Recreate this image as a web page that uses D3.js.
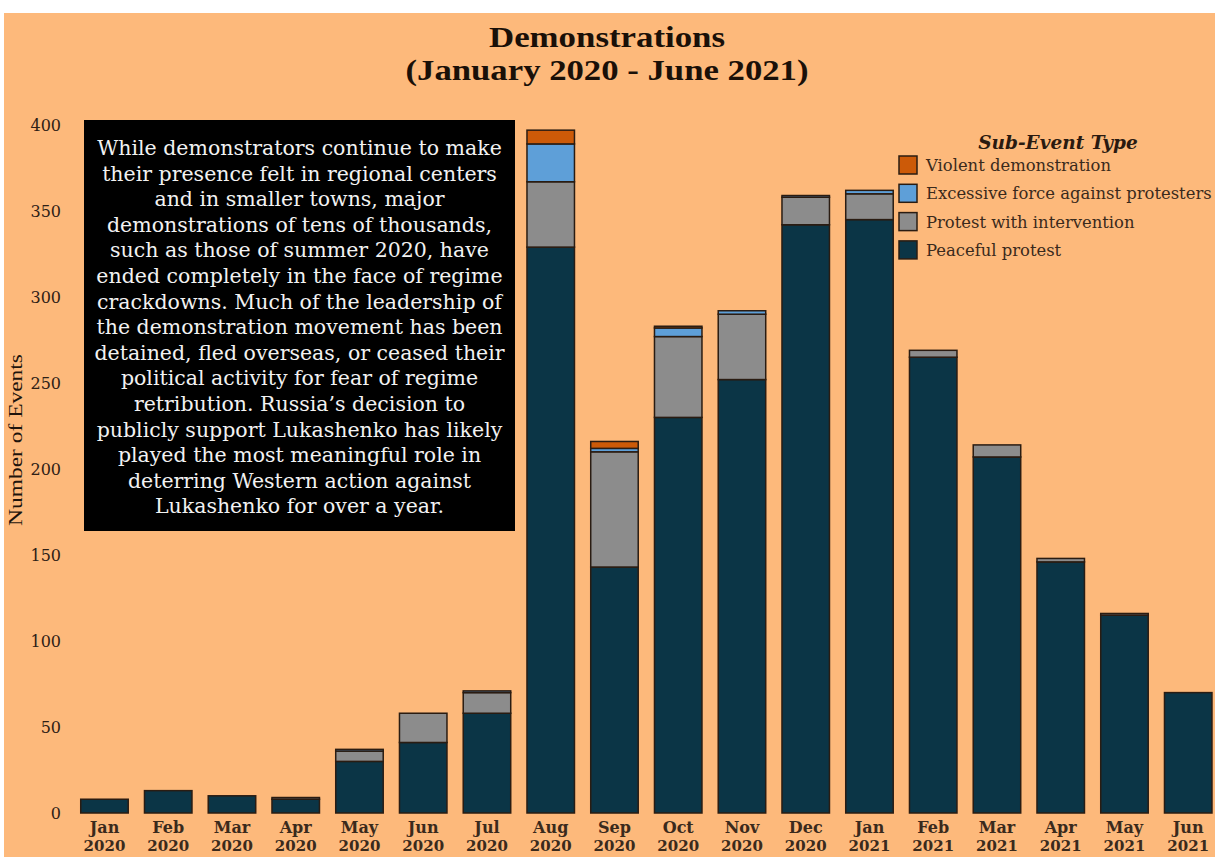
<!DOCTYPE html>
<html>
<head>
<meta charset="utf-8">
<script src="https://cdn.jsdelivr.net/npm/d3@7"></script>
<style>
  html, body { margin: 0; padding: 0; background: #ffffff; }
  svg { display: block; }
</style>
</head>
<body>
<svg id="chart" width="1215" height="857"></svg>
<script>
// ---- Data ----
const months = ["Jan","Feb","Mar","Apr","May","Jun","Jul","Aug","Sep","Oct","Nov","Dec","Jan","Feb","Mar","Apr","May","Jun"];
const years  = ["2020","2020","2020","2020","2020","2020","2020","2020","2020","2020","2020","2020","2021","2021","2021","2021","2021","2021"];
const peaceful     = [8, 13, 10, 8, 30, 41, 58, 329, 143, 230, 252, 342, 345, 265, 207, 146, 115, 70];
const intervention = [0, 0, 0, 1, 6, 17, 12, 38, 67, 47, 38, 16, 15, 4, 7, 2, 1, 0];
const excessive    = [0, 0, 0, 0, 1, 0, 1, 22, 2, 5, 2, 1, 2, 0, 0, 0, 0, 0];
const violent      = [0, 0, 0, 0, 0, 0, 0, 8, 4, 1, 0, 0, 0, 0, 0, 0, 0, 0];
const yTicks = [0, 50, 100, 150, 200, 250, 300, 350, 400];
const seriesKeys   = ["peaceful","intervention","excessive","violent"];
const seriesLabels = ["Peaceful protest","Protest with intervention","Excessive force against protesters","Violent demonstration"];
const seriesColors = ["#0b3546","#8c8c8c","#5e9fd8","#cc5a08"];
const noteLines = [
  "While demonstrators continue to make",
  "their presence felt in regional centers",
  "and in smaller towns, major",
  "demonstrations of tens of thousands,",
  "such as those of summer 2020, have",
  "ended completely in the face of regime",
  "crackdowns. Much of the leadership of",
  "the demonstration movement has been",
  "detained, fled overseas, or ceased their",
  "political activity for fear of regime",
  "retribution. Russia\u2019s decision to",
  "publicly support Lukashenko has likely",
  "played the most meaningful role in",
  "deterring Western action against",
  "Lukashenko for over a year."
];

// ---- Build table ----
const table = months.map((m, i) => ({
  key: i, month: m, year: years[i],
  peaceful: peaceful[i], intervention: intervention[i],
  excessive: excessive[i], violent: violent[i]
}));

const svg = d3.select("#chart");
const bg = "#fdb97b";
const txt = "#3a2a1c";
const edge = "#2a1c12";

svg.append("rect").attr("x", 4).attr("y", 13).attr("width", 1211).attr("height", 844).attr("fill", bg);

const x = d3.scaleBand()
  .domain(table.map(d => d.key))
  .range([72.6, 1220.1])
  .paddingInner(0.255)
  .paddingOuter(0.1275);

const y = d3.scaleLinear().domain([0, 400]).range([813, 125]);

// y axis labels
const yAxis = d3.axisLeft(y).tickValues(yTicks).tickSize(0).tickPadding(0);
const yg = svg.append("g").attr("transform", "translate(61,0)").call(yAxis);
yg.select(".domain").remove();
yg.selectAll("text")
  .attr("font-family", "DejaVu Serif")
  .attr("font-size", 16)
  .attr("fill", "#2e2016");

// stacked bars
const stack = d3.stack().keys(seriesKeys);
const stacked = stack(table);
const layers = svg.append("g").selectAll("g")
  .data(stacked).join("g")
  .attr("fill", (d, i) => seriesColors[i]);
layers.selectAll("rect")
  .data(d => d.filter(s => s[1] - s[0] > 0))
  .join("rect")
  .attr("x", d => x(d.data.key))
  .attr("width", x.bandwidth())
  .attr("y", d => y(d[1]))
  .attr("height", d => y(d[0]) - y(d[1]))
  .attr("stroke", edge)
  .attr("stroke-width", 1.5);

// x axis labels
const xAxis = d3.axisBottom(x).tickSize(0).tickFormat(i => months[i]);
const xg = svg.append("g").attr("transform", "translate(0,813)").call(xAxis);
xg.select(".domain").remove();
xg.selectAll("text")
  .attr("font-family", "DejaVu Serif")
  .attr("font-size", 16)
  .attr("font-weight", "bold")
  .attr("fill", txt)
  .attr("dy", null)
  .attr("y", 20);
xg.selectAll(".tick").append("text")
  .attr("font-family", "DejaVu Serif")
  .attr("font-size", 15)
  .attr("font-weight", "bold")
  .attr("fill", txt)
  .attr("text-anchor", "middle")
  .attr("y", 38)
  .text(i => years[i]);

// Y title
svg.append("text")
  .attr("transform", "translate(22,440) rotate(-90)")
  .attr("text-anchor", "middle")
  .attr("font-family", "Liberation Serif")
  .attr("font-size", 18)
  .attr("fill", "#1e140c")
  .attr("textLength", 172)
  .attr("lengthAdjust", "spacingAndGlyphs")
  .text("Number of Events");

// Title
svg.append("text")
  .attr("x", 607).attr("y", 47)
  .attr("text-anchor", "middle")
  .attr("font-family", "Liberation Serif")
  .attr("font-weight", "bold")
  .attr("font-size", 30)
  .attr("fill", "#1a1008")
  .attr("textLength", 236)
  .attr("lengthAdjust", "spacingAndGlyphs")
  .text("Demonstrations");
svg.append("text")
  .attr("x", 607).attr("y", 80)
  .attr("text-anchor", "middle")
  .attr("font-family", "Liberation Serif")
  .attr("font-weight", "bold")
  .attr("font-size", 30)
  .attr("fill", "#1a1008")
  .attr("textLength", 403)
  .attr("lengthAdjust", "spacingAndGlyphs")
  .text("(January 2020 - June 2021)");

// Annotation box
svg.append("rect")
  .attr("x", 84).attr("y", 120).attr("width", 431).attr("height", 411)
  .attr("fill", "#000000");
svg.append("g").selectAll("text")
  .data(noteLines).join("text")
  .attr("x", 299.5)
  .attr("y", (d, i) => 155 + i * 25.6)
  .attr("text-anchor", "middle")
  .attr("font-family", "DejaVu Serif")
  .attr("font-size", 20.5)
  .attr("fill", "#f2f2f2")
  .text(d => d);

// Legend
const lg = svg.append("g");
lg.append("text")
  .attr("x", 1058).attr("y", 149)
  .attr("text-anchor", "middle")
  .attr("font-family", "DejaVu Serif")
  .attr("font-weight", "bold")
  .attr("font-style", "italic")
  .attr("font-size", 18.5)
  .attr("fill", "#2a1a10")
  .text("Sub-Event Type");
const legendOrder = [3, 2, 1, 0];
const li = lg.selectAll("g.item").data(legendOrder).join("g")
  .attr("class", "item")
  .attr("transform", (d, i) => `translate(899,${156 + i * 28.3})`);
li.append("rect")
  .attr("width", 18).attr("height", 18)
  .attr("fill", d => seriesColors[d])
  .attr("stroke", edge).attr("stroke-width", 1.5);
li.append("text")
  .attr("x", 27).attr("y", 15)
  .attr("font-family", "DejaVu Serif")
  .attr("font-size", 16.4)
  .attr("fill", txt)
  .text(d => seriesLabels[d]);
</script>
</body>
</html>
